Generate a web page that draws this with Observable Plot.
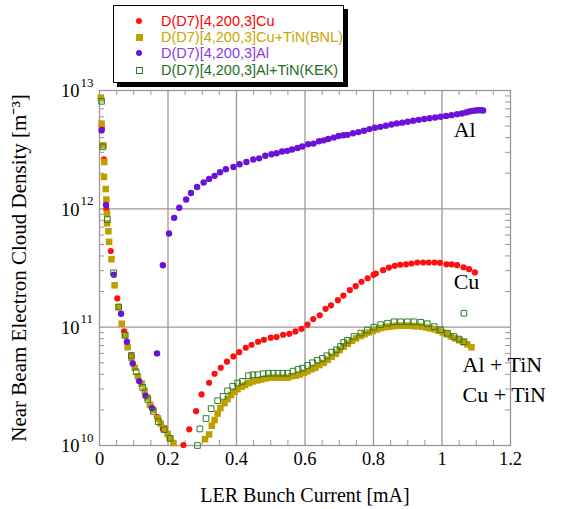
<!DOCTYPE html>
<html>
<head>
<meta charset="utf-8">
<script src="https://cdn.jsdelivr.net/npm/d3@7"></script>
<script src="https://cdn.jsdelivr.net/npm/@observablehq/plot@0.6"></script>
<style>
  body { margin: 0; background: #fff; }
  #wrap { position: relative; width: 561px; height: 509px; overflow: hidden; }
  #legend { position: absolute; left: 113px; top: 5px; width: 229px; height: 76px;
    border: 1px solid #000; box-shadow: 4px 4px 0 #000; background: #fff;
    font-family: "Liberation Sans", Arial, sans-serif; font-size: 14.5px; }
  .row { position: absolute; left: 0; height: 16px; line-height: 16px; white-space: nowrap; }
  .sym { position: absolute; box-sizing: border-box; }
  .lab { position: absolute; left: 47px; top: 0; }
</style>
</head>
<body>
<div id="wrap"><div id="legend"></div></div>
<script>
// ---- data ----
const seriesNames = ["D(D7)[4,200,3]Cu", "D(D7)[4,200,3]Cu+TiN(BNL)", "D(D7)[4,200,3]Al", "D(D7)[4,200,3]Al+TiN(KEK)"];

const cuX = [0.007,0.013,0.020,0.033,0.052,0.072,0.093,0.149,0.168,0.185,0.205,0.245,0.262,0.282,0.298,0.320,0.336,0.354,0.372,0.391,0.408,0.427,0.444,0.463,0.480,0.500,0.517,0.536,0.554,0.572,0.590,0.607,0.624,0.643,0.660,0.676,0.696,0.712,0.731,0.748,0.765,0.783,0.800,0.807,0.828,0.845,0.862,0.878,0.895,0.911,0.928,0.945,0.961,0.978,0.994,1.013,1.028,1.044,1.063,1.079,1.096];
const cuY = [4.8e12,2.62e12,9.9e11,4.4e11,1.75e11,9.2e10,5.7e10,2.22e10,1.74e10,1.38e10,1.15e10,1.01e10,1.37e10,1.95e10,2.70e10,3.39e10,4.04e10,4.54e10,5.11e10,5.66e10,6.15e10,6.70e10,7.10e10,7.53e10,7.83e10,8.15e10,8.24e10,8.63e10,8.79e10,9.20e10,9.68e10,1.05e11,1.17e11,1.26e11,1.43e11,1.53e11,1.69e11,1.85e11,2.06e11,2.22e11,2.42e11,2.59e11,2.77e11,2.84e11,3.03e11,3.19e11,3.30e11,3.37e11,3.40e11,3.45e11,3.52e11,3.52e11,3.52e11,3.52e11,3.50e11,3.40e11,3.39e11,3.34e11,3.21e11,3.09e11,2.90e11];

const bnlX = [0.004,0.006,0.011,0.014,0.013,0.018,0.020,0.022,0.022,0.026,0.028,0.035,0.044,0.056,0.065,0.074,0.082,0.093,0.103,0.112,0.123,0.132,0.140,0.147,0.157,0.171,0.179,0.190,0.199,0.206,0.216,0.308,0.320,0.328,0.336,0.345,0.353,0.365,0.374,0.384,0.394,0.403,0.415,0.425,0.437,0.448,0.460,0.472,0.485,0.497,0.510,0.524,0.536,0.549,0.560,0.573,0.585,0.597,0.607,0.619,0.630,0.642,0.655,0.666,0.678,0.690,0.701,0.713,0.725,0.737,0.749,0.762,0.774,0.786,0.798,0.810,0.822,0.834,0.846,0.858,0.870,0.882,0.894,0.906,0.918,0.930,0.942,0.954,0.966,0.978,0.990,1.002,1.014,1.026,1.038,1.050,1.062,1.074,1.086];
const bnlY = [8.7e12,5.25e12,3.44e12,2.49e12,1.86e12,1.47e12,1.20e12,9.1e11,7.55e11,6.46e11,5.26e11,3.75e11,2.26e11,1.48e11,1.07e11,8.55e10,6.78e10,5.52e10,4.54e10,3.85e10,3.33e10,2.90e10,2.54e10,2.21e10,2.00e10,1.69e10,1.53e10,1.40e10,1.25e10,1.15e10,1.05e10,1.13e10,1.24e10,1.47e10,1.64e10,1.86e10,2.07e10,2.28e10,2.47e10,2.67e10,2.84e10,2.99e10,3.14e10,3.24e10,3.37e10,3.48e10,3.55e10,3.61e10,3.69e10,3.74e10,3.74e10,3.74e10,3.74e10,3.74e10,3.84e10,3.89e10,3.98e10,4.12e10,4.23e10,4.40e10,4.54e10,4.78e10,5.00e10,5.31e10,5.62e10,5.96e10,6.40e10,6.87e10,7.24e10,7.67e10,8.04e10,8.41e10,8.71e10,9.02e10,9.29e10,9.55e10,9.82e10,1.00e11,1.01e11,1.02e11,1.03e11,1.03e11,1.03e11,1.03e11,1.02e11,1.02e11,1.01e11,9.93e10,9.77e10,9.59e10,9.33e10,9.02e10,8.71e10,8.38e10,8.04e10,7.76e10,7.46e10,7.16e10,6.76e10];

const alX = [0.006,0.019,0.042,0.063,0.080,0.097,0.116,0.134,0.153,0.168,0.185,0.203,0.218,0.233,0.253,0.267,0.285,0.304,0.320,0.336,0.352,0.369,0.391,0.409,0.429,0.449,0.466,0.484,0.502,0.517,0.533,0.548,0.562,0.578,0.592,0.609,0.625,0.641,0.655,0.668,0.684,0.698,0.712,0.724,0.740,0.756,0.772,0.788,0.804,0.820,0.836,0.852,0.868,0.884,0.900,0.916,0.932,0.948,0.964,0.980,0.996,1.012,1.028,1.044,1.058,1.070,1.080,1.090,1.098,1.106,1.114,1.120];
const alY = [4.6e12,1.08e12,2.77e11,1.30e11,7.53e10,4.93e10,3.50e10,2.63e10,2.07e10,6.0e10,3.34e11,6.18e11,8.39e11,1.02e12,1.20e12,1.36e12,1.53e12,1.67e12,1.79e12,1.90e12,2.04e12,2.16e12,2.26e12,2.38e12,2.49e12,2.61e12,2.67e12,2.81e12,2.89e12,2.95e12,3.05e12,3.09e12,3.17e12,3.27e12,3.36e12,3.52e12,3.56e12,3.72e12,3.79e12,3.90e12,4.00e12,4.13e12,4.19e12,4.22e12,4.35e12,4.45e12,4.57e12,4.72e12,4.84e12,4.93e12,5.04e12,5.16e12,5.27e12,5.35e12,5.44e12,5.55e12,5.65e12,5.75e12,5.82e12,5.92e12,6.00e12,6.10e12,6.19e12,6.31e12,6.40e12,6.53e12,6.64e12,6.73e12,6.78e12,6.81e12,6.81e12,6.78e12];

const kekX = [0.006,0.010,0.023,0.041,0.056,0.075,0.093,0.107,0.126,0.141,0.157,0.172,0.189,0.206,0.286,0.293,0.311,0.326,0.345,0.361,0.374,0.389,0.403,0.417,0.435,0.448,0.462,0.478,0.493,0.507,0.521,0.535,0.549,0.565,0.580,0.593,0.608,0.622,0.636,0.651,0.664,0.678,0.692,0.704,0.713,0.724,0.743,0.763,0.782,0.801,0.821,0.841,0.860,0.879,0.899,0.918,0.938,0.957,0.977,0.996,1.016,1.035,1.050,1.064,1.064];
const kekY = [8.1e12,3.34e12,8.1e11,2.88e11,1.48e11,8.55e10,5.77e10,4.20e10,3.10e10,2.45e10,1.94e10,1.59e10,1.36e10,1.15e10,1.00e10,1.38e10,1.69e10,2.05e10,2.39e10,2.60e10,2.90e10,3.16e10,3.37e10,3.48e10,3.89e10,3.96e10,3.96e10,4.04e10,4.08e10,4.08e10,4.08e10,4.08e10,4.08e10,4.25e10,4.40e10,4.51e10,4.75e10,5.00e10,5.24e10,5.45e10,5.73e10,6.15e10,6.44e10,6.87e10,7.43e10,7.73e10,8.34e10,8.91e10,9.46e10,1.00e11,1.05e11,1.08e11,1.11e11,1.11e11,1.11e11,1.11e11,1.10e11,1.07e11,1.01e11,9.51e10,8.89e10,8.34e10,7.92e10,7.53e10,1.31e11];

const xTicks = [0, 0.2, 0.4, 0.6, 0.8, 1, 1.2];
const xTickLabels = ["0", "0.2", "0.4", "0.6", "0.8", "1", "1.2"];
const yTicks = [1e10, 1e11, 1e12, 1e13];
const yTickExponents = ["10", "11", "12", "13"];
const xGrid = [0.2, 0.4, 0.6, 0.8, 1.0];
const yGrid = [1e11, 1e12];
const xMinor = [0.05,0.1,0.15,0.25,0.3,0.35,0.45,0.5,0.55,0.65,0.7,0.75,0.85,0.9,0.95,1.05,1.1,1.15];
const yMinor = [2e10,3e10,4e10,5e10,6e10,7e10,8e10,9e10,2e11,3e11,4e11,5e11,6e11,7e11,8e11,9e11,2e12,3e12,4e12,5e12,6e12,7e12,8e12,9e12];

const annotations = [
  {x: 1.034, y: 4.6e12, text: "Al"},
  {x: 1.034, y: 2.43e11, text: "Cu"},
  {x: 1.06, y: 4.84e10, text: "Al + TiN"},
  {x: 1.06, y: 2.65e10, text: "Cu + TiN"}
];
const xLabel = "LER Bunch Current [mA]";
const yLabel = "Near Beam Electron Cloud Density [m\u207B\u00B3]";

// ---- styles ----
const colors = ["#ff1010", "#bf9f00", "#6a12d8", "#2e7d2e"];
const textColors = ["#ff0000", "#c9a600", "#8a3ae0", "#1e6e1e"];
const gridColor = "#a39494";
const serif = "'Liberation Serif', 'Times New Roman', serif";

const W = 561, H = 509, mL = 99, mR = 51, mT = 90, mB = 64;
const plotW = W - mL - mR, plotH = H - mT - mB;

const toRows = (xs, ys) => xs.map((x, i) => ({x, y: ys[i]}));
const cu = toRows(cuX, cuY), bnl = toRows(bnlX, bnlY), al = toRows(alX, alY), kek = toRows(kekX, kekY);

const chart = Plot.plot({
  width: W, height: H,
  marginLeft: mL, marginRight: mR, marginTop: mT, marginBottom: mB,
  x: {domain: [0, 1.2], axis: null},
  y: {type: "log", domain: [1e10, 1e13], axis: null},
  style: {background: "transparent", overflow: "visible"},
  marks: [
    Plot.ruleX(xGrid, {stroke: gridColor, strokeWidth: 1.3}),
    Plot.ruleY(yGrid, {stroke: gridColor, strokeWidth: 1.3}),
    Plot.ruleX(xMinor, {stroke: gridColor, insetTop: plotH - 5}),
    Plot.ruleX(xMinor, {stroke: gridColor, insetBottom: plotH - 5}),
    Plot.ruleY(yMinor, {stroke: gridColor, insetRight: plotW - 5}),
    Plot.ruleY(yMinor, {stroke: gridColor, insetLeft: plotW - 5}),
    Plot.frame({stroke: gridColor, strokeWidth: 1.3}),
    Plot.dot(cu, {x: "x", y: "y", r: 3.1, fill: colors[0], stroke: "none"}),
    Plot.dot(bnl, {x: "x", y: "y", r: 3.7, symbol: "square", fill: colors[1], stroke: "none"}),
    Plot.dot(al, {x: "x", y: "y", r: 3.2, fill: colors[2], stroke: "none"}),
    Plot.dot(kek, {x: "x", y: "y", r: 3.2, symbol: "square", fill: "none", stroke: colors[3], strokeWidth: 1}),
    Plot.text(xTicks, {x: d => d, text: (d, i) => xTickLabels[i], frameAnchor: "bottom", dy: 14, textAnchor: "middle", lineAnchor: "middle", fontSize: 18.5, fontFamily: serif, fill: "#000"}),
    Plot.text(yTicks, {y: d => d, text: () => "10", frameAnchor: "left", dx: -20, dy: 1, textAnchor: "end", lineAnchor: "middle", fontSize: 18.5, fontFamily: serif, fill: "#000"}),
    Plot.text(yTicks, {y: d => d, text: (d, i) => yTickExponents[i], frameAnchor: "left", dx: -19, dy: -8, textAnchor: "start", lineAnchor: "middle", fontSize: 13, fontFamily: serif, fill: "#000"}),
    Plot.text(annotations, {x: "x", y: "y", text: "text", textAnchor: "start", lineAnchor: "middle", fontSize: 22, fontFamily: serif, fill: "#000"}),
    Plot.text([xLabel], {frameAnchor: "bottom", dy: 50, textAnchor: "middle", lineAnchor: "middle", fontSize: 20, fontFamily: serif, fill: "#000"}),
    Plot.text([yLabel], {frameAnchor: "left", dx: -80, rotate: -90, textAnchor: "middle", lineAnchor: "middle", fontSize: 21, fontFamily: serif, fill: "#000"})
  ]
});
const wrap = document.getElementById("wrap");
wrap.insertBefore(chart, wrap.firstChild);

// ---- legend ----
const legend = document.getElementById("legend");
const rowTops = [7, 23, 39, 56];
const symbolStyles = [
  `width:6px;height:6px;border-radius:50%;background:${colors[0]};`,
  `width:7px;height:7px;background:${colors[1]};`,
  `width:6px;height:6px;border-radius:50%;background:${colors[2]};`,
  `width:7px;height:7px;border:1px solid ${colors[3]};background:#fff;`
];
seriesNames.forEach((name, i) => {
  const row = document.createElement("div");
  row.className = "row";
  row.style.top = rowTops[i] + "px";
  row.style.width = "100%";
  const sym = document.createElement("div");
  sym.className = "sym";
  sym.style.cssText += symbolStyles[i] + "left:22px;top:5px;";
  const lab = document.createElement("div");
  lab.className = "lab";
  lab.style.color = textColors[i];
  lab.textContent = name;
  row.appendChild(sym);
  row.appendChild(lab);
  legend.appendChild(row);
});
</script>
</body>
</html>
